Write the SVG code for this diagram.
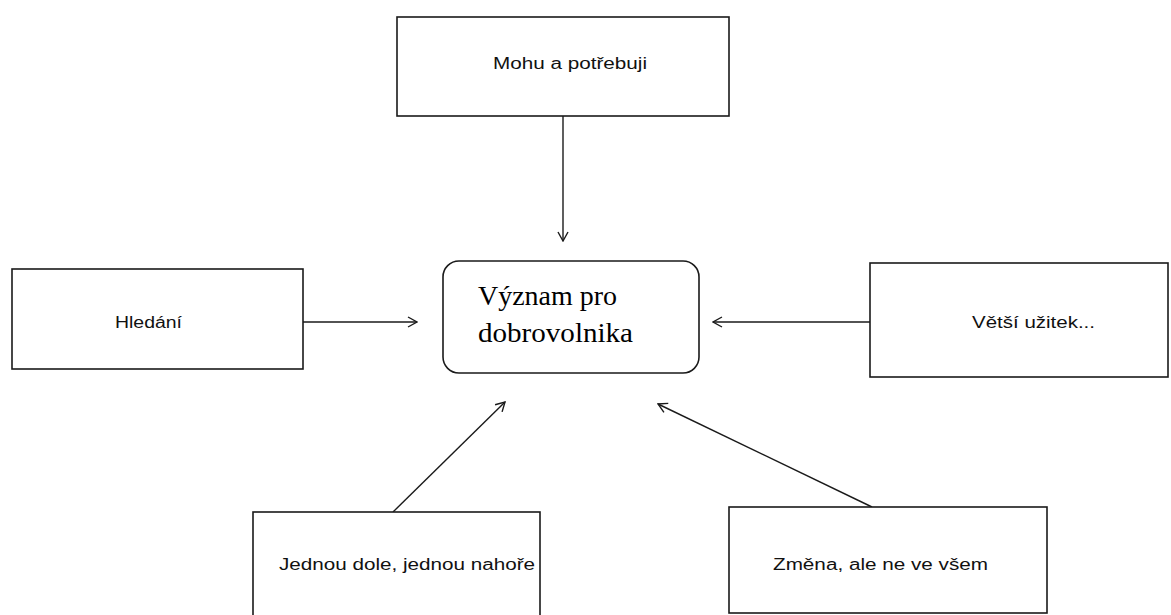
<svg xmlns="http://www.w3.org/2000/svg" width="1171" height="615" viewBox="0 0 1171 615">
  <style>
    .box { fill: #ffffff; stroke: #1a1a1a; stroke-width: 1.6; }
    .lbl { font-family: "Liberation Sans", Arial, sans-serif; font-size: 16px; fill: #111; }
    .main { font-family: "Liberation Serif", "Times New Roman", serif; font-size: 28px; fill: #000; }
    .conn { stroke: #1a1a1a; stroke-width: 1.4; fill: none; marker-end: url(#arr); }
  </style>
  <defs>
    <marker id="arr" viewBox="0 0 12 12" refX="11" refY="6" markerWidth="12" markerHeight="12" markerUnits="userSpaceOnUse" orient="auto">
      <path d="M2,1 L11,6 L2,11" fill="none" stroke="#1a1a1a" stroke-width="1.4"/>
    </marker>
  </defs>
  <rect width="1171" height="615" fill="#ffffff"/>
  <g id="connectors">
    <line class="conn" x1="563" y1="116" x2="563" y2="241"/>
    <line class="conn" x1="303" y1="322" x2="417" y2="322"/>
    <line class="conn" x1="870" y1="322" x2="713" y2="322"/>
    <line class="conn" x1="393" y1="512" x2="505" y2="402"/>
    <line class="conn" x1="872" y1="507" x2="658" y2="404"/>
  </g>
  <g id="node-top">
    <rect class="box" x="397" y="17" width="332" height="99"/>
    <text class="lbl" x="493" y="69" textLength="154" lengthAdjust="spacingAndGlyphs">Mohu a potřebuji</text>
  </g>
  <g id="node-left">
    <rect class="box" x="12" y="269" width="291" height="100"/>
    <text class="lbl" x="115" y="328" textLength="67" lengthAdjust="spacingAndGlyphs">Hledání</text>
  </g>
  <g id="node-center">
    <rect class="box" x="443" y="261" width="256" height="112" rx="16" ry="16"/>
    <text class="main" x="478" y="305" textLength="139" lengthAdjust="spacingAndGlyphs">Význam pro</text>
    <text class="main" x="478" y="342" textLength="155" lengthAdjust="spacingAndGlyphs">dobrovolnika</text>
  </g>
  <g id="node-right">
    <rect class="box" x="870" y="263" width="298" height="114"/>
    <text class="lbl" x="972" y="328" textLength="123" lengthAdjust="spacingAndGlyphs">Větší užitek...</text>
  </g>
  <g id="node-bottom-left">
    <rect class="box" x="253" y="512" width="287" height="110"/>
    <text class="lbl" x="279" y="570" textLength="256" lengthAdjust="spacingAndGlyphs">Jednou dole, jednou nahoře</text>
  </g>
  <g id="node-bottom-right">
    <rect class="box" x="729" y="507" width="318" height="106"/>
    <text class="lbl" x="773" y="570" textLength="215" lengthAdjust="spacingAndGlyphs">Změna, ale ne ve všem</text>
  </g>
</svg>
